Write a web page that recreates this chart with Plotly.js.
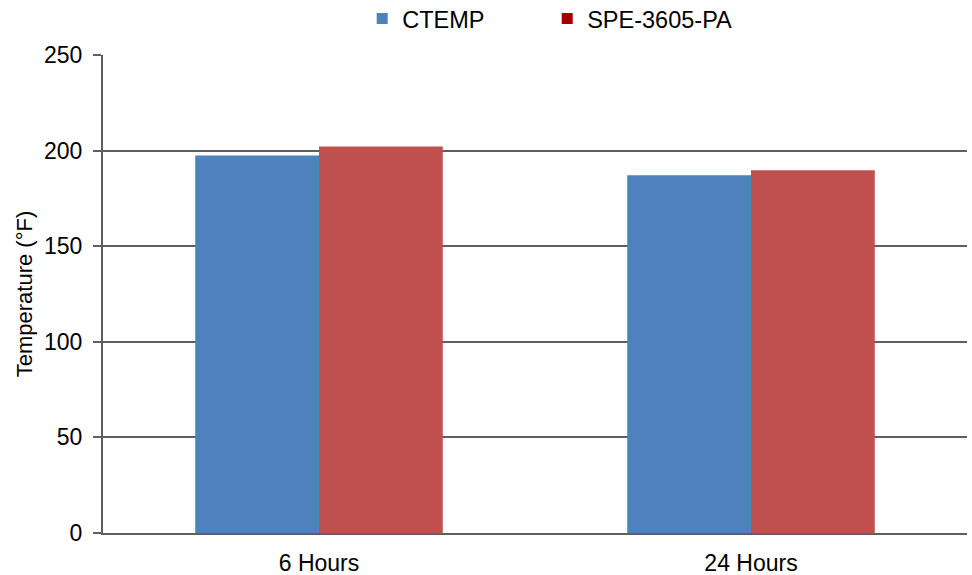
<!DOCTYPE html>
<html>
<head>
<meta charset="utf-8">
<script src="https://cdn.plot.ly/plotly-3.0.1.min.js"></script>
<style>html,body{margin:0;padding:0;background:#fff;}#chart{width:972px;height:575px;}</style>
</head>
<body>
<div id="chart"></div>
<script>
const categories = ["6 Hours", "24 Hours"];
const seriesNames = ["CTEMP", "SPE-3605-PA"];
const ctemp = [197.5, 187.1];
const spe = [202.2, 189.7];
const barColors = ["#4F81BD", "#C0504D"];
const legendColors = ["#4F81BD", "#A50000"];
const yTicks = [0, 50, 100, 150, 200, 250];

const traces = [
  {type: "bar", x: categories, y: ctemp, name: seriesNames[0], marker: {color: barColors[0]}, showlegend: false},
  {type: "bar", x: categories, y: spe, name: seriesNames[1], marker: {color: barColors[1]}, showlegend: false},
  {type: "scatter", mode: "markers", x: [null], y: [null], name: seriesNames[0], marker: {color: legendColors[0], symbol: "square", size: 11}, showlegend: true},
  {type: "scatter", mode: "markers", x: [null], y: [null], name: seriesNames[1], marker: {color: legendColors[1], symbol: "square", size: 11}, showlegend: true}
];

const layout = {
  width: 972, height: 575,
  margin: {l: 103, r: 5, t: 55, b: 42, autoexpand: false},
  paper_bgcolor: "#ffffff", plot_bgcolor: "#ffffff",
  font: {family: "Liberation Sans, Arial, sans-serif", size: 23, color: "#000"},
  barmode: "group",
  bargap: 0.427, bargroupgap: 0,
  showlegend: true,
  legend: {orientation: "h", x: 0.3, xanchor: "left", y: 1.03, yanchor: "bottom", font: {size: 23.5}, traceorder: "normal", itemclick: false, entrywidth: 140, entrywidthmode: "pixels"},
  xaxis: {
    type: "category",
    showline: true, linecolor: "#5f5f5f", linewidth: 2,
    ticks: "", tickfont: {size: 23}, showgrid: false,
    zeroline: false, ticklabelstandoff: 8
  },
  yaxis: {
    range: [0, 250], tickvals: yTicks, ticktext: yTicks.map(String),
    showline: true, linecolor: "#5f5f5f", linewidth: 2,
    ticks: "outside", ticklen: 8, tickwidth: 2, tickcolor: "#5f5f5f",
    showgrid: true, gridcolor: "#5f5f5f", gridwidth: 2,
    zeroline: false, tickfont: {size: 23}, ticklabelstandoff: 6,
    title: {text: "Temperature (°F)", font: {size: 22}, standoff: 5}
  }
};

Plotly.newPlot("chart", traces, layout, {staticPlot: true, displayModeBar: false});
</script>
</body>
</html>
